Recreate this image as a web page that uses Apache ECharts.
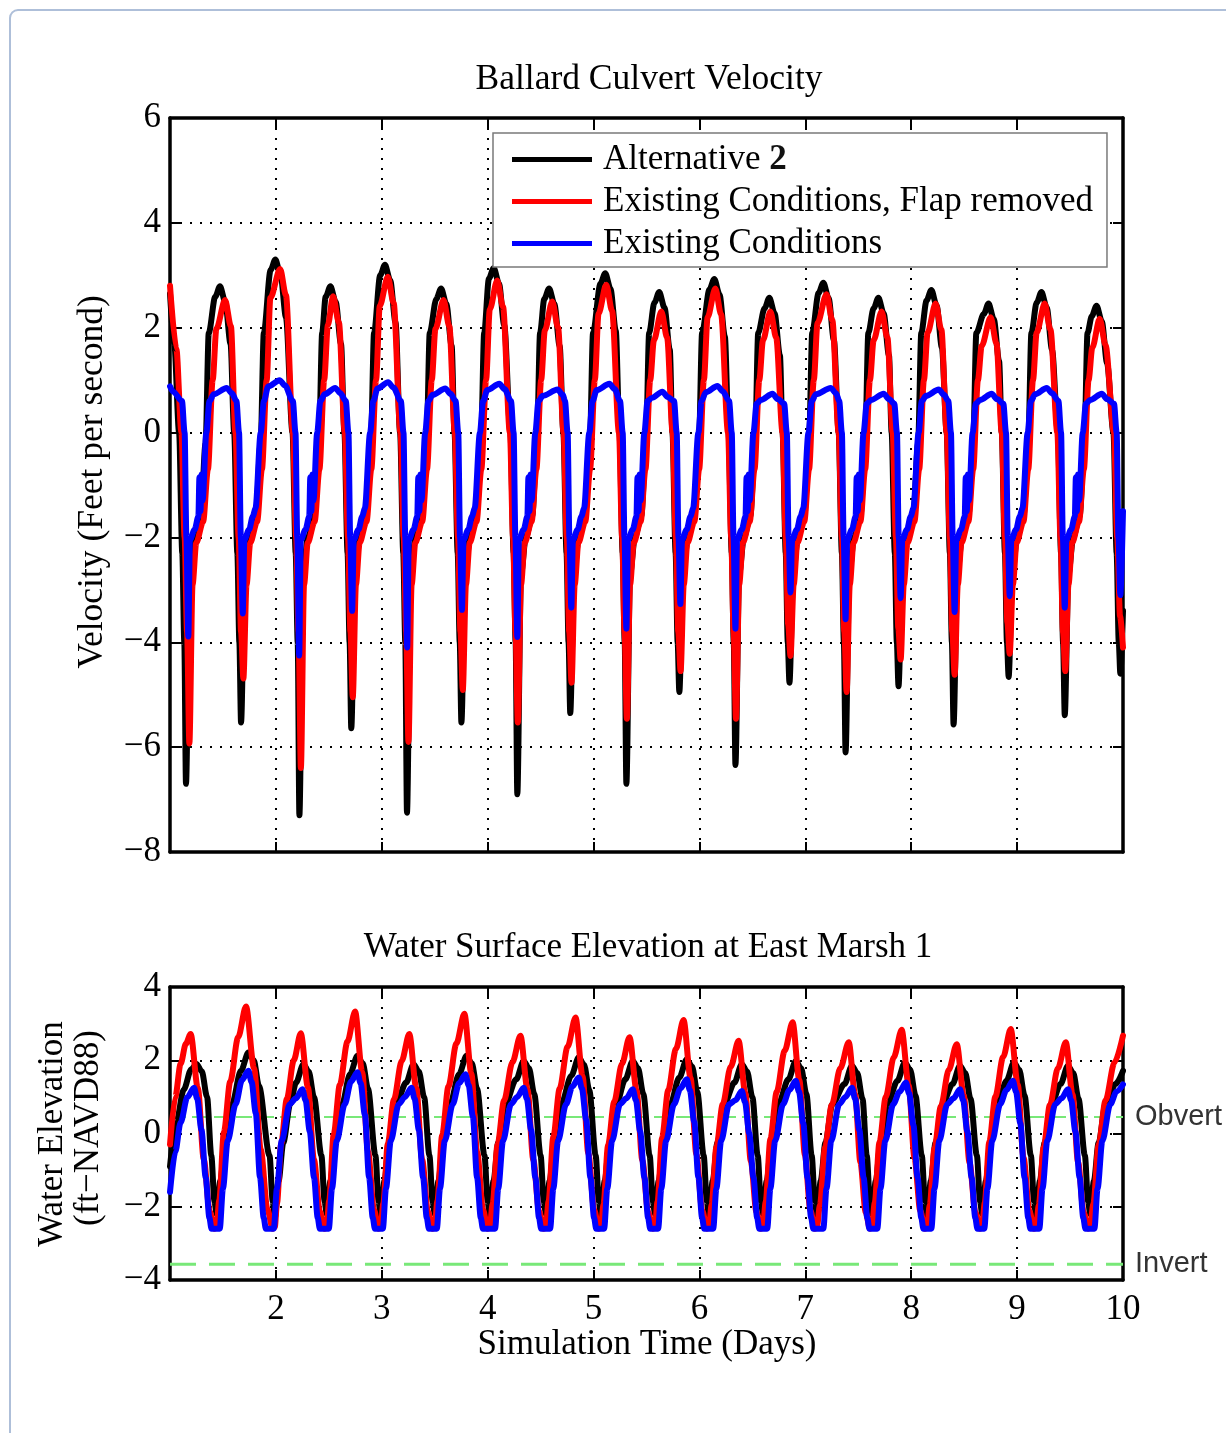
<!DOCTYPE html>
<html>
<head>
<meta charset="utf-8">
<script src="https://cdn.jsdelivr.net/npm/echarts@6/dist/echarts.min.js"></script>
<style>
  html, body { margin: 0; padding: 0; background: #ffffff; }
  #chart { width: 1226px; height: 1433px; }
</style>
</head>
<body>
<div id="chart"></div>
<script>
// ---- Series names ----
const seriesNames = ['Alternative 2', 'Existing Conditions, Flap removed', 'Existing Conditions'];

// ---- Axis ranges / ticks ----
const dayRange = [1, 10];
const velocityRange = [-8, 6];
const elevationRange = [-4, 4];

// ---- Reference elevations (ft-NAVD88) ----
const obvertElevation = 0.45;
const invertElevation = -3.57;

// ---- Ballard culvert velocity, ft/s  [day, value] ----
const velAlt2 = [
[1.0,2.65],[1.04,1.7],[1.086,0],[1.116,-2.3],[1.135,-4.0],[1.151,-6.7],
[1.186,-2.7],[1.231,-2.0],[1.291,-1.6],[1.336,-0.2],[1.366,1.9],[1.427,2.59],[1.472,2.79],
[1.522,2.49],[1.572,1.69],[1.606,0],[1.636,-2.3],[1.655,-4.0],[1.671,-5.53],
[1.706,-2.7],[1.751,-2.0],[1.811,-1.6],[1.856,-0.2],[1.886,1.9],[1.95,3.1],[1.995,3.3],
[2.045,3.0],[2.095,2.2],[2.157,0],[2.187,-2.3],[2.206,-4.0],[2.222,-7.3],
[2.257,-2.7],[2.302,-2.0],[2.362,-1.6],[2.407,-0.2],[2.437,1.9],[2.47,2.59],[2.515,2.79],
[2.565,2.49],[2.615,1.69],[2.647,0],[2.677,-2.3],[2.696,-4.0],[2.712,-5.64],
[2.747,-2.7],[2.792,-2.0],[2.852,-1.6],[2.897,-0.2],[2.927,1.9],[2.985,3.0],[3.03,3.2],
[3.08,2.9],[3.13,2.1],[3.173,0],[3.203,-2.3],[3.222,-4.0],[3.238,-7.25],
[3.273,-2.7],[3.318,-2.0],[3.378,-1.6],[3.423,-0.2],[3.453,1.9],[3.515,2.55],[3.56,2.75],
[3.61,2.45],[3.66,1.65],[3.687,0],[3.717,-2.3],[3.736,-4.0],[3.752,-5.53],
[3.787,-2.7],[3.832,-2.0],[3.892,-1.6],[3.937,-0.2],[3.967,1.9],[4.012,2.94],[4.057,3.14],
[4.107,2.84],[4.157,2.04],[4.215,0],[4.245,-2.3],[4.264,-4.0],[4.28,-6.9],
[4.315,-2.7],[4.36,-2.0],[4.42,-1.6],[4.465,-0.2],[4.495,1.9],[4.535,2.55],[4.58,2.75],
[4.63,2.45],[4.68,1.65],[4.715,0],[4.745,-2.3],[4.764,-4.0],[4.78,-5.35],
[4.815,-2.7],[4.86,-2.0],[4.92,-1.6],[4.965,-0.2],[4.995,1.9],[5.065,2.84],[5.11,3.04],
[5.16,2.74],[5.21,1.94],[5.245,0],[5.275,-2.3],[5.294,-4.0],[5.31,-6.7],
[5.345,-2.7],[5.39,-2.0],[5.45,-1.6],[5.495,-0.2],[5.525,1.9],[5.575,2.48],[5.62,2.68],
[5.67,2.38],[5.72,1.58],[5.745,0],[5.775,-2.3],[5.794,-4.0],[5.81,-4.95],
[5.845,-2.7],[5.89,-2.0],[5.95,-1.6],[5.995,-0.2],[6.025,1.9],[6.095,2.73],[6.14,2.93],
[6.19,2.63],[6.24,1.83],[6.275,0],[6.305,-2.3],[6.324,-4.0],[6.34,-6.34],
[6.375,-2.7],[6.42,-2.0],[6.48,-1.6],[6.525,-0.2],[6.555,1.9],[6.615,2.37],[6.66,2.57],
[6.71,2.27],[6.76,1.47],[6.785,0],[6.815,-2.3],[6.834,-4.0],[6.85,-4.77],
[6.885,-2.7],[6.93,-2.0],[6.99,-1.6],[7.035,-0.2],[7.065,1.9],[7.125,2.66],[7.17,2.86],
[7.22,2.56],[7.27,1.76],[7.315,0],[7.345,-2.3],[7.364,-4.0],[7.38,-6.1],
[7.415,-2.7],[7.46,-2.0],[7.52,-1.6],[7.565,-0.2],[7.595,1.9],[7.645,2.37],[7.69,2.57],
[7.74,2.27],[7.79,1.47],[7.815,0],[7.845,-2.3],[7.864,-4.0],[7.88,-4.84],
[7.915,-2.7],[7.96,-2.0],[8.02,-1.6],[8.065,-0.2],[8.095,1.9],[8.145,2.52],[8.19,2.72],
[8.24,2.42],[8.29,1.62],[8.335,0],[8.365,-2.3],[8.384,-4.0],[8.4,-5.57],
[8.435,-2.7],[8.48,-2.0],[8.54,-1.6],[8.585,-0.2],[8.615,1.9],[8.685,2.26],[8.73,2.46],
[8.78,2.16],[8.83,1.36],[8.855,0],[8.885,-2.3],[8.904,-4.0],[8.92,-4.66],
[8.955,-2.7],[9.0,-2.0],[9.06,-1.6],[9.105,-0.2],[9.135,1.9],[9.185,2.48],[9.23,2.68],
[9.28,2.38],[9.33,1.58],[9.385,0],[9.415,-2.3],[9.434,-4.0],[9.45,-5.39],
[9.485,-2.7],[9.53,-2.0],[9.59,-1.6],[9.635,-0.2],[9.665,1.9],[9.705,2.22],[9.75,2.42],
[9.8,2.12],[9.85,1.32],[9.91,0],[9.94,-2.3],[9.96,-4.0],[9.975,-4.6],[10.0,-3.4]
];

const velFlapRemoved = [
[1.0,2.8],[1.06,1.6],[1.108,0],[1.138,-2.0],[1.161,-3.8],[1.183,-5.93],
[1.213,-2.9],[1.248,-2.1],[1.313,-1.7],[1.358,-0.7],[1.403,1.0],[1.438,1.98],[1.52,2.53],
[1.575,2.03],[1.618,0],[1.648,-2.0],[1.671,-3.8],[1.693,-4.69],
[1.723,-2.9],[1.758,-2.1],[1.823,-1.7],[1.868,-0.7],[1.913,1.0],[1.948,2.57],[2.04,3.12],
[2.095,2.62],[2.161,0],[2.191,-2.0],[2.214,-3.8],[2.236,-6.4],
[2.266,-2.9],[2.301,-2.1],[2.366,-1.7],[2.411,-0.7],[2.456,1.0],[2.491,2.05],[2.54,2.6],
[2.595,2.1],[2.651,0],[2.681,-2.0],[2.704,-3.8],[2.726,-5.05],
[2.756,-2.9],[2.791,-2.1],[2.856,-1.7],[2.901,-0.7],[2.946,1.0],[2.981,2.42],[3.057,2.97],
[3.112,2.47],[3.177,0],[3.207,-2.0],[3.23,-3.8],[3.252,-5.9],
[3.282,-2.9],[3.317,-2.1],[3.382,-1.7],[3.427,-0.7],[3.472,1.0],[3.507,1.98],[3.583,2.53],
[3.638,2.03],[3.69,0],[3.72,-2.0],[3.743,-3.8],[3.765,-4.91],
[3.795,-2.9],[3.83,-2.1],[3.895,-1.7],[3.94,-0.7],[3.985,1.0],[4.02,2.35],[4.09,2.9],
[4.145,2.4],[4.21,0],[4.24,-2.0],[4.263,-3.8],[4.285,-5.53],
[4.315,-2.9],[4.35,-2.1],[4.415,-1.7],[4.46,-0.7],[4.505,1.0],[4.54,1.95],[4.61,2.5],
[4.665,2.0],[4.717,0],[4.747,-2.0],[4.77,-3.8],[4.792,-4.77],
[4.822,-2.9],[4.857,-2.1],[4.922,-1.7],[4.967,-0.7],[5.012,1.0],[5.047,2.27],[5.12,2.82],
[5.175,2.32],[5.24,0],[5.27,-2.0],[5.293,-3.8],[5.315,-5.46],
[5.345,-2.9],[5.38,-2.1],[5.445,-1.7],[5.49,-0.7],[5.535,1.0],[5.57,1.76],[5.64,2.31],
[5.695,1.81],[5.747,0],[5.777,-2.0],[5.8,-3.8],[5.822,-4.55],
[5.852,-2.9],[5.887,-2.1],[5.952,-1.7],[5.997,-0.7],[6.042,1.0],[6.077,2.2],[6.15,2.75],
[6.205,2.25],[6.27,0],[6.3,-2.0],[6.323,-3.8],[6.345,-5.46],
[6.375,-2.9],[6.41,-2.1],[6.475,-1.7],[6.52,-0.7],[6.565,1.0],[6.6,1.76],[6.67,2.31],
[6.725,1.81],[6.785,0],[6.815,-2.0],[6.838,-3.66],[6.86,-4.26],
[6.89,-2.9],[6.925,-2.1],[6.99,-1.7],[7.035,-0.7],[7.08,1.0],[7.115,2.09],[7.2,2.64],
[7.255,2.14],[7.315,0],[7.345,-2.0],[7.368,-3.8],[7.39,-4.95],
[7.42,-2.9],[7.455,-2.1],[7.52,-1.7],[7.565,-0.7],[7.61,1.0],[7.645,1.76],[7.72,2.31],
[7.775,1.81],[7.825,0],[7.855,-2.0],[7.878,-3.73],[7.9,-4.33],
[7.93,-2.9],[7.965,-2.1],[8.03,-1.7],[8.075,-0.7],[8.12,1.0],[8.155,1.91],[8.23,2.46],
[8.285,1.96],[8.335,0],[8.365,-2.0],[8.388,-3.8],[8.41,-4.62],
[8.44,-2.9],[8.475,-2.1],[8.54,-1.7],[8.585,-0.7],[8.63,1.0],[8.665,1.65],[8.75,2.2],
[8.805,1.7],[8.855,0],[8.885,-2.0],[8.908,-3.62],[8.93,-4.22],
[8.96,-2.9],[8.995,-2.1],[9.06,-1.7],[9.105,-0.7],[9.15,1.0],[9.185,1.91],[9.26,2.46],
[9.315,1.96],[9.38,0],[9.41,-2.0],[9.433,-3.8],[9.455,-4.55],
[9.485,-2.9],[9.52,-2.1],[9.585,-1.7],[9.63,-0.7],[9.675,1.0],[9.71,1.62],[9.78,2.17],
[9.835,1.67],[9.915,0],[9.945,-2.0],[9.972,-3.5],[10.0,-4.1]
];

const velExisting = [
[1.0,0.88],[1.03,0.78],[1.113,0.6],[1.138,0],[1.155,-2.0],[1.173,-3.89],
[1.188,-2.05],[1.233,-1.85],[1.268,-1.6],[1.278,-0.85],[1.288,-1.5],[1.298,-0.8],[1.308,-1.3],[1.343,0],[1.373,0.6],[1.413,0.73],[1.535,0.85],
[1.585,0.75],[1.627,0.6],[1.652,0],[1.669,-2.0],[1.687,-3.45],
[1.702,-2.05],[1.747,-1.85],[1.782,-1.6],[1.807,-1.45],[1.857,0],[1.887,0.6],[1.927,0.88],[2.035,1.0],
[2.085,0.9],[2.16,0.6],[2.185,0],[2.202,-2.0],[2.22,-4.25],
[2.235,-2.05],[2.28,-1.85],[2.315,-1.6],[2.325,-0.85],[2.335,-1.5],[2.345,-0.8],[2.355,-1.3],[2.39,0],[2.42,0.6],[2.46,0.73],[2.56,0.85],
[2.61,0.75],[2.66,0.6],[2.685,0],[2.702,-2.0],[2.72,-3.4],
[2.735,-2.05],[2.78,-1.85],[2.815,-1.6],[2.84,-1.45],[2.89,0],[2.92,0.6],[2.96,0.84],[3.06,0.96],
[3.11,0.86],[3.18,0.6],[3.205,0],[3.222,-2.0],[3.24,-4.1],
[3.255,-2.05],[3.3,-1.85],[3.335,-1.6],[3.345,-0.85],[3.355,-1.5],[3.365,-0.8],[3.375,-1.3],[3.41,0],[3.44,0.6],[3.48,0.72],[3.6,0.84],
[3.65,0.74],[3.697,0.6],[3.722,0],[3.739,-2.0],[3.757,-3.38],
[3.772,-2.05],[3.817,-1.85],[3.852,-1.6],[3.877,-1.45],[3.927,0],[3.957,0.6],[3.997,0.81],[4.11,0.93],
[4.16,0.83],[4.22,0.6],[4.245,0],[4.262,-2.0],[4.28,-3.9],
[4.295,-2.05],[4.34,-1.85],[4.375,-1.6],[4.385,-0.85],[4.395,-1.5],[4.405,-0.8],[4.415,-1.3],[4.45,0],[4.48,0.6],[4.52,0.7],[4.66,0.82],
[4.71,0.72],[4.73,0.6],[4.755,0],[4.772,-2.0],[4.79,-3.34],
[4.805,-2.05],[4.85,-1.85],[4.885,-1.6],[4.91,-1.45],[4.96,0],[4.99,0.6],[5.03,0.81],[5.15,0.93],
[5.2,0.83],[5.25,0.6],[5.275,0],[5.292,-2.0],[5.31,-3.74],
[5.325,-2.05],[5.37,-1.85],[5.405,-1.6],[5.415,-0.85],[5.425,-1.5],[5.435,-0.8],[5.445,-1.3],[5.48,0],[5.51,0.6],[5.55,0.66],[5.65,0.78],
[5.7,0.68],[5.76,0.6],[5.785,0],[5.802,-2.0],[5.82,-3.27],
[5.835,-2.05],[5.88,-1.85],[5.915,-1.6],[5.94,-1.45],[5.99,0],[6.02,0.6],[6.06,0.77],[6.17,0.89],
[6.22,0.79],[6.28,0.6],[6.305,0],[6.322,-2.0],[6.34,-3.74],
[6.355,-2.05],[6.4,-1.85],[6.435,-1.6],[6.445,-0.85],[6.455,-1.5],[6.465,-0.8],[6.475,-1.3],[6.51,0],[6.54,0.55],[6.58,0.62],[6.69,0.74],
[6.74,0.64],[6.8,0.55],[6.825,0],[6.842,-2.0],[6.86,-3.05],
[6.875,-2.05],[6.92,-1.85],[6.955,-1.6],[6.98,-1.45],[7.03,0],[7.06,0.6],[7.1,0.73],[7.24,0.85],
[7.29,0.75],[7.32,0.6],[7.345,0],[7.362,-2.0],[7.38,-3.56],
[7.395,-2.05],[7.44,-1.85],[7.475,-1.6],[7.485,-0.85],[7.495,-1.5],[7.505,-0.8],[7.515,-1.3],[7.55,0],[7.58,0.55],[7.62,0.62],[7.74,0.74],
[7.79,0.64],[7.84,0.55],[7.865,0],[7.882,-2.0],[7.9,-3.16],
[7.915,-2.05],[7.96,-1.85],[7.995,-1.6],[8.02,-1.45],[8.07,0],[8.1,0.6],[8.14,0.7],[8.26,0.82],
[8.31,0.72],[8.35,0.6],[8.375,0],[8.392,-2.0],[8.41,-3.42],
[8.425,-2.05],[8.47,-1.85],[8.505,-1.6],[8.515,-0.85],[8.525,-1.5],[8.535,-0.8],[8.545,-1.3],[8.58,0],[8.61,0.55],[8.65,0.62],[8.76,0.74],
[8.81,0.64],[8.87,0.55],[8.895,0],[8.912,-2.0],[8.93,-3.12],
[8.945,-2.05],[8.99,-1.85],[9.025,-1.6],[9.05,-1.45],[9.1,0],[9.13,0.6],[9.17,0.73],[9.28,0.85],
[9.33,0.75],[9.39,0.6],[9.415,0],[9.432,-2.0],[9.45,-3.34],
[9.465,-2.05],[9.51,-1.85],[9.545,-1.6],[9.555,-0.85],[9.565,-1.5],[9.575,-0.8],[9.585,-1.3],[9.62,0],[9.65,0.55],[9.69,0.62],[9.8,0.74],
[9.85,0.64],[9.915,0.55],[9.94,0],[9.957,-2.0],[9.975,-3.1],[10.0,-1.5]
];

// ---- Water surface elevation at East Marsh 1, ft-NAVD88  [day, value] ----
const wseAlt2 = [
[1.0,-0.9],[1.06,0.3],[1.13,1.2],[1.2,1.75],[1.25,1.9],
[1.3,1.7],[1.35,1.0],[1.39,-0.6],[1.42,-1.85],[1.44,-2.2],[1.475,-1.3],[1.52,-0.25],[1.585,0.8],[1.67,1.71],[1.74,2.21],
[1.79,2.01],[1.84,1.3],[1.94,-0.6],[1.97,-1.85],[1.99,-2.3],[2.025,-1.3],[2.07,-0.25],[2.135,0.8],[2.19,1.39],[2.26,1.89],
[2.31,1.69],[2.36,0.99],[2.43,-0.6],[2.46,-1.85],[2.48,-2.2],[2.515,-1.3],[2.56,-0.25],[2.625,0.8],[2.7,1.62],[2.77,2.12],
[2.82,1.92],[2.87,1.22],[2.94,-0.6],[2.97,-1.85],[2.99,-2.3],[3.025,-1.3],[3.07,-0.25],[3.135,0.8],[3.23,1.39],[3.3,1.89],
[3.35,1.69],[3.4,0.99],[3.45,-0.6],[3.48,-1.85],[3.5,-2.2],[3.535,-1.3],[3.58,-0.25],[3.645,0.8],[3.73,1.62],[3.8,2.12],
[3.85,1.92],[3.9,1.22],[3.97,-0.6],[4.0,-1.85],[4.02,-2.3],[4.055,-1.3],[4.1,-0.25],[4.165,0.8],[4.27,1.48],[4.34,1.98],
[4.39,1.78],[4.44,1.08],[4.5,-0.6],[4.53,-1.85],[4.55,-2.2],[4.585,-1.3],[4.63,-0.25],[4.695,0.8],[4.79,1.58],[4.86,2.08],
[4.91,1.88],[4.96,1.18],[5.02,-0.6],[5.05,-1.85],[5.07,-2.3],[5.105,-1.3],[5.15,-0.25],[5.215,0.8],[5.3,1.48],[5.37,1.98],
[5.42,1.78],[5.47,1.08],[5.53,-0.6],[5.56,-1.85],[5.58,-2.2],[5.615,-1.3],[5.66,-0.25],[5.725,0.8],[5.81,1.53],[5.88,2.03],
[5.93,1.83],[5.98,1.13],[6.04,-0.6],[6.07,-1.85],[6.09,-2.3],[6.125,-1.3],[6.17,-0.25],[6.235,0.8],[6.33,1.39],[6.4,1.89],
[6.45,1.69],[6.5,0.99],[6.55,-0.6],[6.58,-1.85],[6.6,-2.2],[6.635,-1.3],[6.68,-0.25],[6.745,0.8],[6.84,1.48],[6.91,1.98],
[6.96,1.78],[7.01,1.08],[7.06,-0.6],[7.09,-1.85],[7.11,-2.3],[7.145,-1.3],[7.19,-0.25],[7.255,0.8],[7.37,1.35],[7.44,1.85],
[7.49,1.65],[7.54,0.95],[7.58,-0.6],[7.61,-1.85],[7.63,-2.2],[7.665,-1.3],[7.71,-0.25],[7.775,0.8],[7.87,1.44],[7.94,1.94],
[7.99,1.74],[8.04,1.04],[8.1,-0.6],[8.13,-1.85],[8.15,-2.3],[8.185,-1.3],[8.23,-0.25],[8.295,0.8],[8.39,1.35],[8.46,1.85],
[8.51,1.65],[8.56,0.95],[8.62,-0.6],[8.65,-1.85],[8.67,-2.2],[8.705,-1.3],[8.75,-0.25],[8.815,0.8],[8.9,1.44],[8.97,1.94],
[9.02,1.74],[9.07,1.04],[9.13,-0.6],[9.16,-1.85],[9.18,-2.3],[9.215,-1.3],[9.26,-0.25],[9.325,0.8],[9.41,1.35],[9.48,1.85],
[9.53,1.65],[9.58,0.95],[9.64,-0.6],[9.67,-1.85],[9.69,-2.2],[9.725,-1.3],[9.77,-0.25],[9.835,0.8],[9.93,1.35],[10.0,1.71]
];

const wseFlapRemoved = [
[1.0,-0.3],[1.05,1.0],[1.1,1.9],[1.15,2.45],[1.195,2.72],
[1.263,1.24],[1.319,-0.71],[1.375,-2.13],[1.42,-2.6],[1.44,-2.55],[1.465,-1.83],[1.509,0.04],[1.569,1.42],[1.644,2.63],[1.718,3.47],
[1.794,1.78],[1.857,-0.44],[1.92,-2.07],[1.97,-2.6],[1.99,-2.55],[2.01,-1.92],[2.05,-0.28],[2.103,0.94],[2.169,2.0],[2.235,2.74],
[2.303,1.26],[2.359,-0.7],[2.415,-2.13],[2.46,-2.6],[2.48,-2.55],[2.503,-1.84],[2.546,-0.02],[2.604,1.33],[2.676,2.51],[2.748,3.33],
[2.815,1.68],[2.87,-0.49],[2.926,-2.08],[2.97,-2.6],[2.99,-2.55],[3.014,-1.92],[3.057,-0.28],[3.115,0.93],[3.188,1.98],[3.26,2.72],
[3.326,1.24],[3.381,-0.71],[3.436,-2.13],[3.48,-2.6],[3.5,-2.55],[3.525,-1.85],[3.57,-0.05],[3.63,1.29],[3.705,2.46],[3.78,3.27],
[3.846,1.64],[3.901,-0.51],[3.956,-2.08],[4.0,-2.6],[4.02,-2.55],[4.047,-1.92],[4.093,-0.31],[4.155,0.9],[4.233,1.94],[4.31,2.67],
[4.376,1.21],[4.431,-0.72],[4.486,-2.13],[4.53,-2.6],[4.55,-2.55],[4.575,-1.86],[4.62,-0.09],[4.68,1.23],[4.755,2.37],[4.83,3.17],
[4.896,1.57],[4.951,-0.55],[5.006,-2.09],[5.05,-2.6],[5.07,-2.55],[5.094,-1.93],[5.137,-0.32],[5.195,0.87],[5.268,1.9],[5.34,2.63],
[5.406,1.18],[5.461,-0.74],[5.516,-2.14],[5.56,-2.6],[5.58,-2.55],[5.604,-1.87],[5.647,-0.12],[5.705,1.18],[5.778,2.31],[5.85,3.1],
[5.916,1.52],[5.971,-0.57],[6.026,-2.1],[6.07,-2.6],[6.09,-2.55],[6.115,-1.94],[6.16,-0.37],[6.22,0.8],[6.295,1.82],[6.37,2.53],
[6.433,1.11],[6.486,-0.77],[6.538,-2.14],[6.58,-2.6],[6.6,-2.55],[6.625,-1.88],[6.67,-0.15],[6.73,1.14],[6.805,2.26],[6.88,3.04],
[6.943,1.47],[6.996,-0.59],[7.048,-2.1],[7.09,-2.6],[7.11,-2.55],[7.138,-1.95],[7.186,-0.38],[7.25,0.78],[7.33,1.78],[7.41,2.49],
[7.47,1.08],[7.52,-0.79],[7.57,-2.15],[7.61,-2.6],[7.63,-2.55],[7.655,-1.9],[7.7,-0.24],[7.76,1.0],[7.835,2.08],[7.91,2.83],
[7.976,1.32],[8.031,-0.67],[8.086,-2.12],[8.13,-2.6],[8.15,-2.55],[8.175,-1.95],[8.22,-0.4],[8.28,0.74],[8.355,1.74],[8.43,2.44],
[8.496,1.04],[8.551,-0.8],[8.606,-2.15],[8.65,-2.6],[8.67,-2.55],[8.694,-1.9],[8.737,-0.23],[8.795,1.01],[8.868,2.09],[8.94,2.85],
[9.006,1.34],[9.061,-0.66],[9.116,-2.12],[9.16,-2.6],[9.18,-2.55],[9.205,-1.95],[9.25,-0.38],[9.31,0.78],[9.385,1.78],[9.46,2.49],
[9.523,1.08],[9.576,-0.79],[9.628,-2.15],[9.67,-2.6],[9.69,-2.55],[9.72,-1.92],[9.77,-0.31],[9.835,0.9],[9.92,1.94],[10.0,2.67]
];

const wseExisting = [
[1.0,-1.6],[1.05,-0.5],[1.1,0.3],[1.165,1.0],[1.227,1.25],
[1.257,0.95],[1.297,0.1],[1.337,-1.2],[1.372,-2.3],[1.392,-2.6],[1.47,-2.6],[1.5,-1.5],[1.545,-0.2],[1.62,0.8],[1.68,1.46],[1.74,1.71],
[1.77,1.41],[1.81,0.56],[1.85,-1.2],[1.885,-2.3],[1.905,-2.6],[1.98,-2.6],[2.01,-1.5],[2.055,-0.2],[2.13,0.8],[2.19,0.96],[2.25,1.21],
[2.28,0.91],[2.32,0.06],[2.36,-1.2],[2.395,-2.3],[2.415,-2.6],[2.5,-2.6],[2.53,-1.5],[2.575,-0.2],[2.65,0.8],[2.71,1.42],[2.77,1.67],
[2.8,1.37],[2.84,0.52],[2.88,-1.2],[2.915,-2.3],[2.935,-2.6],[3.01,-2.6],[3.04,-1.5],[3.085,-0.2],[3.16,0.8],[3.22,1.0],[3.28,1.25],
[3.31,0.95],[3.35,0.1],[3.39,-1.2],[3.425,-2.3],[3.445,-2.6],[3.52,-2.6],[3.55,-1.5],[3.595,-0.2],[3.67,0.8],[3.73,1.37],[3.79,1.62],
[3.82,1.32],[3.86,0.47],[3.9,-1.2],[3.935,-2.3],[3.955,-2.6],[4.07,-2.6],[4.1,-1.5],[4.145,-0.2],[4.22,0.8],[4.28,1.0],[4.34,1.25],
[4.37,0.95],[4.41,0.1],[4.45,-1.2],[4.485,-2.3],[4.505,-2.6],[4.59,-2.6],[4.62,-1.5],[4.665,-0.2],[4.74,0.8],[4.8,1.28],[4.86,1.53],
[4.89,1.23],[4.93,0.38],[4.97,-1.2],[5.005,-2.3],[5.025,-2.6],[5.1,-2.6],[5.13,-1.5],[5.175,-0.2],[5.25,0.8],[5.31,0.96],[5.37,1.21],
[5.4,0.91],[5.44,0.06],[5.48,-1.2],[5.515,-2.3],[5.535,-2.6],[5.61,-2.6],[5.64,-1.5],[5.685,-0.2],[5.76,0.8],[5.82,1.23],[5.88,1.48],
[5.91,1.18],[5.95,0.33],[5.99,-1.2],[6.025,-2.3],[6.045,-2.6],[6.13,-2.6],[6.16,-1.5],[6.205,-0.2],[6.28,0.8],[6.34,0.91],[6.4,1.16],
[6.43,0.86],[6.47,0.01],[6.51,-1.2],[6.545,-2.3],[6.565,-2.6],[6.64,-2.6],[6.67,-1.5],[6.715,-0.2],[6.79,0.8],[6.85,1.19],[6.91,1.44],
[6.94,1.14],[6.98,0.29],[7.02,-1.2],[7.055,-2.3],[7.075,-2.6],[7.17,-2.6],[7.2,-1.5],[7.245,-0.2],[7.32,0.8],[7.38,1.0],[7.44,1.25],
[7.47,0.95],[7.51,0.1],[7.55,-1.2],[7.585,-2.3],[7.605,-2.6],[7.68,-2.6],[7.71,-1.5],[7.755,-0.2],[7.83,0.8],[7.89,1.14],[7.95,1.39],
[7.98,1.09],[8.02,0.24],[8.06,-1.2],[8.095,-2.3],[8.115,-2.6],[8.19,-2.6],[8.22,-1.5],[8.265,-0.2],[8.34,0.8],[8.4,0.96],[8.46,1.21],
[8.49,0.91],[8.53,0.06],[8.57,-1.2],[8.605,-2.3],[8.625,-2.6],[8.69,-2.6],[8.72,-1.5],[8.765,-0.2],[8.84,0.8],[8.9,1.19],[8.96,1.44],
[8.99,1.14],[9.03,0.29],[9.07,-1.2],[9.105,-2.3],[9.125,-2.6],[9.21,-2.6],[9.24,-1.5],[9.285,-0.2],[9.36,0.8],[9.42,0.96],[9.48,1.21],
[9.51,0.91],[9.55,0.06],[9.59,-1.2],[9.625,-2.3],[9.645,-2.6],[9.73,-2.6],[9.76,-1.5],[9.805,-0.2],[9.88,0.8],[9.94,1.15],[10.0,1.34]
];

// ---- Styling ----
const SERIF = '"Liberation Serif", "Times New Roman", Times, serif';
const SANS = '"Liberation Sans", Arial, Helvetica, sans-serif';
const FS = 35;
const lineColors = ['#000000', '#ff0000', '#0000ff'];
const green = '#78e878';

const minusFmt = v => (v < 0 ? '\u2212' + Math.abs(v) : String(v));

const chart = echarts.init(document.getElementById('chart'), null, { renderer: 'canvas' });

const gridTop = { left: 170, top: 118, width: 953, height: 734 };
const gridBottom = { left: 170, top: 987, width: 953, height: 293 };

const dotted = { show: true, lineStyle: { color: '#000', width: 2, type: [2, 8] } };
const boxLine = { show: true, onZero: false, lineStyle: { color: '#000', width: 3.5 } };
const inTick = { show: true, inside: true, length: 10, lineStyle: { color: '#000', width: 2 } };

function xAx(grid, pos, labels, withGrid) {
  return {
    type: 'value', gridIndex: grid, position: pos,
    min: dayRange[0], max: dayRange[1], interval: 1,
    axisLine: boxLine, axisTick: inTick,
    axisLabel: labels ? {
      show: true, showMinLabel: false, margin: 12,
      fontSize: FS, fontFamily: SERIF, color: '#000'
    } : { show: false },
    splitLine: withGrid ? dotted : { show: false }
  };
}
function yAx(grid, pos, range, labels) {
  return {
    type: 'value', gridIndex: grid, position: pos,
    min: range[0], max: range[1], interval: 2,
    axisLine: boxLine, axisTick: inTick,
    axisLabel: labels ? {
      show: true, margin: 9, fontSize: FS, fontFamily: SERIF, color: '#000',
      formatter: minusFmt
    } : { show: false },
    splitLine: labels ? dotted : { show: false }
  };
}

function lineSeries(name, data, color, xi, yi) {
  return {
    name, type: 'line', data,
    xAxisIndex: xi, yAxisIndex: yi,
    showSymbol: false, symbol: 'none',
    smooth: 0.3, smoothMonotone: 'x',
    lineStyle: { color, width: 6, join: 'round', cap: 'round' },
    itemStyle: { color },
    emphasis: { disabled: true },
    animation: false
  };
}

function refLine(label, value, width, dash) {
  return {
    name: label, type: 'line',
    xAxisIndex: 2, yAxisIndex: 2,
    data: [[dayRange[0], value], [dayRange[1], value]],
    showSymbol: false, symbol: 'none',
    lineStyle: { color: green, width, type: dash },
    itemStyle: { color: green },
    endLabel: {
      show: true, formatter: label, distance: 12,
      fontSize: 29, fontFamily: SANS, color: '#333'
    },
    emphasis: { disabled: true },
    animation: false, z: 1
  };
}

const option = {
  animation: false,
  backgroundColor: '#ffffff',
  grid: [gridTop, gridBottom],
  xAxis: [
    xAx(0, 'bottom', false, true),
    xAx(0, 'top', false, false),
    xAx(1, 'bottom', true, true),
    xAx(1, 'top', false, false)
  ],
  yAxis: [
    yAx(0, 'left', velocityRange, true),
    yAx(0, 'right', velocityRange, false),
    yAx(1, 'left', elevationRange, true),
    yAx(1, 'right', elevationRange, false)
  ],
  legend: {
    data: seriesNames,
    orient: 'vertical',
    left: 493, top: 133,
    padding: [9, 14, 6, 19],
    itemGap: 7,
    itemWidth: 80, itemHeight: 5,
    icon: 'rect',
    backgroundColor: '#ffffff',
    borderColor: '#7a7a7a', borderWidth: 1.5,
    selectedMode: false,
    formatter: n => (n === 'Alternative 2' ? 'Alternative {b|2}' : n),
    textStyle: {
      fontSize: FS, fontFamily: SERIF, color: '#000', lineHeight: 35,
      padding: [0, 0, 0, 6],
      rich: { b: { fontSize: FS, fontFamily: SERIF, fontWeight: 'bold', color: '#111', lineHeight: 35 } }
    }
  },
  series: [
    refLine('Obvert', obvertElevation, 2, [16, 6]),
    refLine('Invert', invertElevation, 3, [26, 13]),
    lineSeries(seriesNames[0], velAlt2, lineColors[0], 0, 0),
    lineSeries(seriesNames[1], velFlapRemoved, lineColors[1], 0, 0),
    lineSeries(seriesNames[2], velExisting, lineColors[2], 0, 0),
    lineSeries(seriesNames[0], wseAlt2, lineColors[0], 2, 2),
    lineSeries(seriesNames[1], wseFlapRemoved, lineColors[1], 2, 2),
    lineSeries(seriesNames[2], wseExisting, lineColors[2], 2, 2)
  ],
  graphic: [
    {
      type: 'rect', silent: true, z: -10,
      shape: { x: 10, y: 10, width: 1260, height: 1460, r: 8 },
      style: { fill: 'none', stroke: '#aebfd9', lineWidth: 2 }
    },
    {
      type: 'text', x: 649, y: 80, silent: true,
      style: { text: 'Ballard Culvert Velocity', font: '35.5px ' + SERIF, fill: '#000', align: 'center', verticalAlign: 'middle' }
    },
    {
      type: 'text', x: 648, y: 948, silent: true,
      style: { text: 'Water Surface Elevation at East Marsh 1', font: '35px ' + SERIF, fill: '#000', align: 'center', verticalAlign: 'middle' }
    },
    {
      type: 'text', x: 647, y: 1345, silent: true,
      style: { text: 'Simulation Time (Days)', font: '35px ' + SERIF, fill: '#000', align: 'center', verticalAlign: 'middle' }
    },
    {
      type: 'text', x: 93, y: 482, rotation: Math.PI / 2, silent: true,
      style: { text: 'Velocity (Feet per second)', font: '35.5px ' + SERIF, fill: '#000', align: 'center', verticalAlign: 'middle' }
    },
    {
      type: 'text', x: 53, y: 1134, rotation: Math.PI / 2, silent: true,
      style: { text: 'Water Elevation', font: '35px ' + SERIF, fill: '#000', align: 'center', verticalAlign: 'middle' }
    },
    {
      type: 'text', x: 89, y: 1128, rotation: Math.PI / 2, silent: true,
      style: { text: '(ft\u2212NAVD88)', font: '35px ' + SERIF, fill: '#000', align: 'center', verticalAlign: 'middle' }
    }
  ]
};

chart.setOption(option);
</script>
</body>
</html>
